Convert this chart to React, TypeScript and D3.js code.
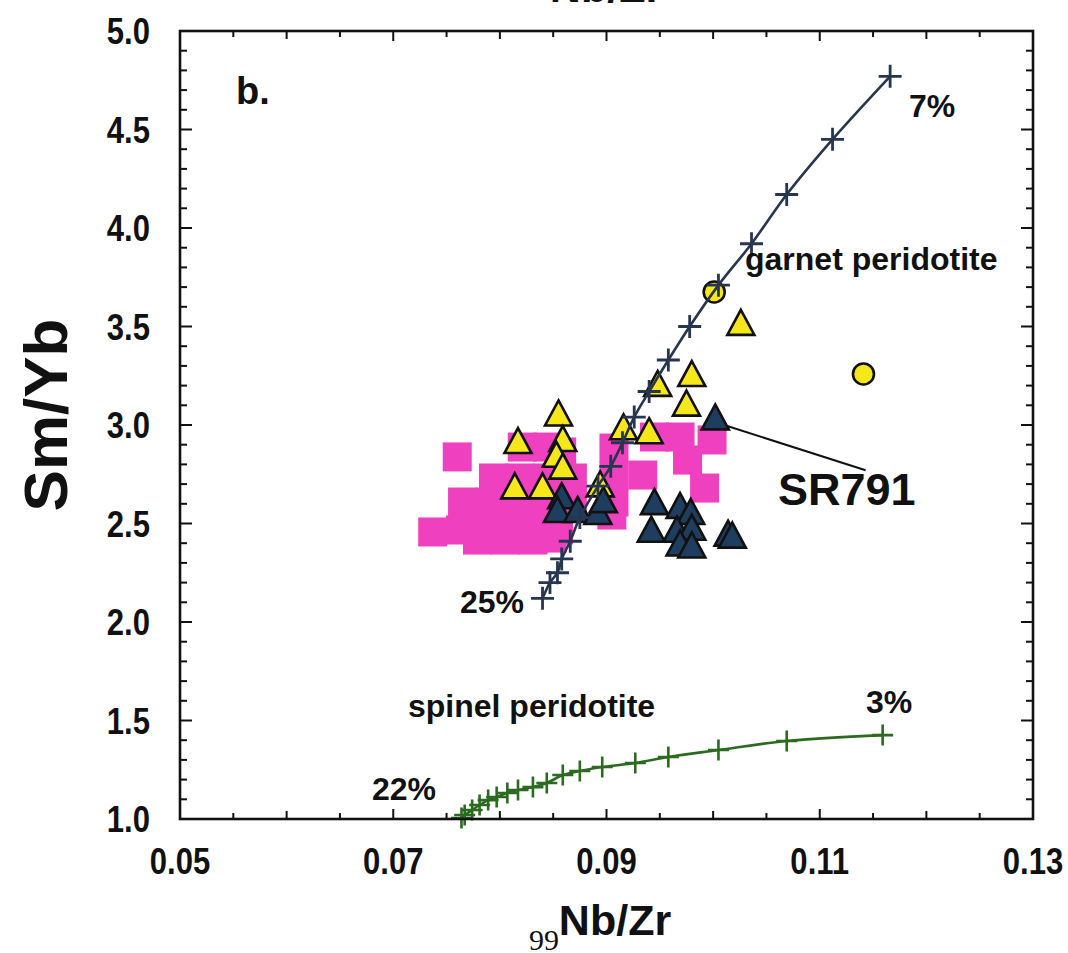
import React, { useEffect } from "react";
import * as d3 from "d3";

// Garnet peridotite melting curve (Nb/Zr, Sm/Yb), 7% → 25%
const garnetNb = [0.1166, 0.1112, 0.1069, 0.1036, 0.1005, 0.0978, 0.0958, 0.094, 0.0926, 0.0915, 0.0904, 0.0892, 0.0875, 0.0866, 0.0858, 0.0854, 0.0847, 0.084];
const garnetSm = [4.77, 4.45, 4.17, 3.92, 3.71, 3.5, 3.33, 3.17, 3.04, 2.91, 2.79, 2.69, 2.53, 2.41, 2.32, 2.25, 2.2, 2.12];

// Spinel peridotite melting curve, 3% → 22%
const spinelNb = [0.1159, 0.1069, 0.1005, 0.0958, 0.0927, 0.0896, 0.0875, 0.0859, 0.0844, 0.0831, 0.0817, 0.0807, 0.0797, 0.0789, 0.0781, 0.0774, 0.0767, 0.0764];
const spinelSm = [1.426, 1.396, 1.35, 1.315, 1.284, 1.264, 1.244, 1.223, 1.183, 1.162, 1.147, 1.132, 1.112, 1.096, 1.071, 1.046, 1.02, 1.005];

// Field samples (pink squares)
const pinkNb = [0.076, 0.0821, 0.0845, 0.0858, 0.0794, 0.0819, 0.0845, 0.0868, 0.0765, 0.0791, 0.0817, 0.0842, 0.0868, 0.0737, 0.0763, 0.0789, 0.0814, 0.084, 0.0855, 0.0779, 0.0805, 0.0831, 0.0849, 0.0907, 0.0907, 0.0907, 0.0905, 0.0934, 0.0945, 0.0969, 0.0999, 0.0976, 0.0992];
const pinkSm = [2.838, 2.888, 2.888, 2.863, 2.731, 2.731, 2.731, 2.731, 2.609, 2.609, 2.609, 2.609, 2.619, 2.457, 2.467, 2.467, 2.467, 2.467, 2.467, 2.416, 2.416, 2.416, 2.426, 2.883, 2.741, 2.609, 2.543, 2.746, 2.939, 2.939, 2.924, 2.822, 2.68];

// Yellow triangles
const yellowNb = [0.0817, 0.0855, 0.0859, 0.0853, 0.0859, 0.0814, 0.084, 0.0894, 0.0916, 0.094, 0.0948, 0.098, 0.0975, 0.1026];
const yellowSm = [2.9, 3.04, 2.91, 2.83, 2.77, 2.67, 2.67, 2.68, 2.97, 2.95, 3.19, 3.24, 3.09, 3.5];

// Yellow circles
const circleNb = [0.1001, 0.1141];
const circleSm = [3.675, 3.259];

// Dark blue triangles (first one is SR791)
const blueNb = [0.1002, 0.0858, 0.0854, 0.0873, 0.0892, 0.0897, 0.0945, 0.0942, 0.0969, 0.0979, 0.0966, 0.098, 0.0969, 0.098, 0.1014, 0.1018];
const blueSm = [3.02, 2.62, 2.55, 2.55, 2.54, 2.6, 2.59, 2.45, 2.57, 2.54, 2.45, 2.46, 2.38, 2.37, 2.43, 2.42];

const xTickLabels = [0.05, 0.07, 0.09, 0.11, 0.13];
const yTickLabels = [1.0, 1.5, 2.0, 2.5, 3.0, 3.5, 4.0, 4.5, 5.0];

const FONT = "'Liberation Sans', Arial, Helvetica, sans-serif";

const x = d3.scaleLinear().domain([0.05, 0.13]).range([180, 1033]);
const y = d3.scaleLinear().domain([1, 5]).range([819, 31]);

const triPath = (cx: number, cy: number) => {
  const b = 13.5;
  const h = 25;
  return `M${cx},${cy - (2 * h) / 3}L${cx + b},${cy + h / 3}L${cx - b},${cy + h / 3}Z`;
};

const crossPath = (cx: number, cy: number, s: number) =>
  `M${cx - s},${cy}H${cx + s}M${cx},${cy - s}V${cy + s}`;

export default function App() {
  useEffect(() => {
    document.body.style.margin = "0";
  }, []);

  const [x0, x1] = x.range();
  const [y0, y1] = y.range();

  const xMinor = d3.range(0, 17).map((i) => 0.05 + i * 0.005);
  const yMinor = d3.range(0, 41).map((i) => 1 + i * 0.1);

  const line = d3
    .line<[number, number]>()
    .x((d) => x(d[0]))
    .y((d) => y(d[1]))
    .curve(d3.curveCatmullRom);

  const garnet: [number, number][] = garnetNb.map((v, i) => [v, garnetSm[i]]);
  const spinel: [number, number][] = spinelNb.map((v, i) => [v, spinelSm[i]]);

  const sq = 29;

  // SR791 leader
  const srX = x(blueNb[0]) + 12;
  const srY = y(blueSm[0]) + 5;
  const leadEndX = x(0.1143);
  const leadEndY = y(2.77);

  return (
    <svg
      width={1068}
      height={953}
      style={{ position: "absolute", left: 0, top: 0, background: "#fff" }}
      fontFamily={FONT}
      fontWeight="bold"
    >
      {/* cut-off title of the panel above */}
      <text x={606} y={2} fontSize={43} textAnchor="middle" fill="#111">
        Nb/Zr
      </text>

      {/* pink squares */}
      <g fill="#ef40bf">
        {pinkNb.map((v, i) => (
          <rect key={i} x={x(v) - sq / 2} y={y(pinkSm[i]) - sq / 2} width={sq} height={sq} />
        ))}
      </g>

      {/* yellow triangles */}
      <g fill="#f6e71b" stroke="#111" strokeWidth={2.6} strokeLinejoin="miter">
        {yellowNb.map((v, i) => (
          <path key={i} d={triPath(x(v), y(yellowSm[i]))} />
        ))}
      </g>

      {/* dark blue triangles */}
      <g fill="#1f3d5e" stroke="#111" strokeWidth={2.6}>
        {blueNb.map((v, i) => (
          <path key={i} d={triPath(x(v), y(blueSm[i]))} />
        ))}
      </g>

      {/* yellow circles */}
      <g fill="#f6e71b" stroke="#111" strokeWidth={2.6}>
        {circleNb.map((v, i) => (
          <circle key={i} cx={x(v)} cy={y(circleSm[i])} r={10.5} />
        ))}
      </g>

      {/* garnet peridotite curve */}
      <path d={line(garnet) ?? ""} fill="none" stroke="#27364f" strokeWidth={2.6} />
      <g stroke="#27364f" strokeWidth={2.8}>
        {garnet.map((d, i) => (
          <path key={i} d={crossPath(x(d[0]), y(d[1]), 11.5)} />
        ))}
      </g>

      {/* spinel peridotite curve */}
      <path d={line(spinel) ?? ""} fill="none" stroke="#2b6a1f" strokeWidth={2.6} />
      <g stroke="#2b6a1f" strokeWidth={2.6}>
        {spinel.map((d, i) => (
          <path key={i} d={crossPath(x(d[0]), y(d[1]), 10.5)} />
        ))}
      </g>

      {/* SR791 leader line */}
      <line x1={srX} y1={srY} x2={leadEndX} y2={leadEndY} stroke="#111" strokeWidth={2} />

      {/* frame */}
      <rect x={x0} y={y1} width={x1 - x0} height={y0 - y1} fill="none" stroke="#111" strokeWidth={2.6} />

      {/* ticks */}
      <g stroke="#111" strokeWidth={2}>
        {xMinor.map((v, i) => {
          const len = i % 4 === 0 ? 10 : i % 2 === 0 ? 8 : 6;
          const px = x(v);
          return (
            <g key={i}>
              <line x1={px} x2={px} y1={y0} y2={y0 - len} />
              <line x1={px} x2={px} y1={y1} y2={y1 + len} />
            </g>
          );
        })}
        {yMinor.map((v, i) => {
          const len = i % 5 === 0 ? 12 : 7;
          const py = y(v);
          return (
            <g key={i}>
              <line x1={x0} x2={x0 + len} y1={py} y2={py} />
              <line x1={x1} x2={x1 - len} y1={py} y2={py} />
            </g>
          );
        })}
      </g>

      {/* tick labels: tall, slightly condensed bold */}
      <g fontSize={37} fill="#111">
        {xTickLabels.map((v) => (
          <text
            key={v}
            textAnchor="middle"
            transform={`translate(${x(v)},874) scale(0.84,1)`}
          >
            {v.toFixed(2)}
          </text>
        ))}
        {yTickLabels.map((v) => (
          <text
            key={v}
            textAnchor="end"
            transform={`translate(150,${y(v) + 13}) scale(0.84,1)`}
          >
            {v.toFixed(1)}
          </text>
        ))}
      </g>

      {/* axis titles */}
      <text x={615} y={935} fontSize={43} textAnchor="middle" fill="#111">
        Nb/Zr
      </text>
      <text
        x={0}
        y={0}
        fontSize={62}
        textAnchor="middle"
        fill="#111"
        transform="translate(67,415) rotate(-90)"
      >
        Sm/Yb
      </text>
      <text x={529} y={950} fontSize={30} fontWeight="normal" fontFamily="'Liberation Serif', 'Times New Roman', serif" fill="#111">
        99
      </text>

      {/* annotations */}
      <g fill="#111" fontSize={32}>
        <text x={236} y={104} fontSize={38}>b.</text>
        <text x={909} y={117}>7%</text>
        <text x={745} y={270}>garnet peridotite</text>
        <text x={778} y={505} fontSize={45}>SR791</text>
        <text x={460} y={613}>25%</text>
        <text x={408} y={717}>spinel peridotite</text>
        <text x={866} y={713}>3%</text>
        <text x={372} y={800}>22%</text>
      </g>
    </svg>
  );
}
